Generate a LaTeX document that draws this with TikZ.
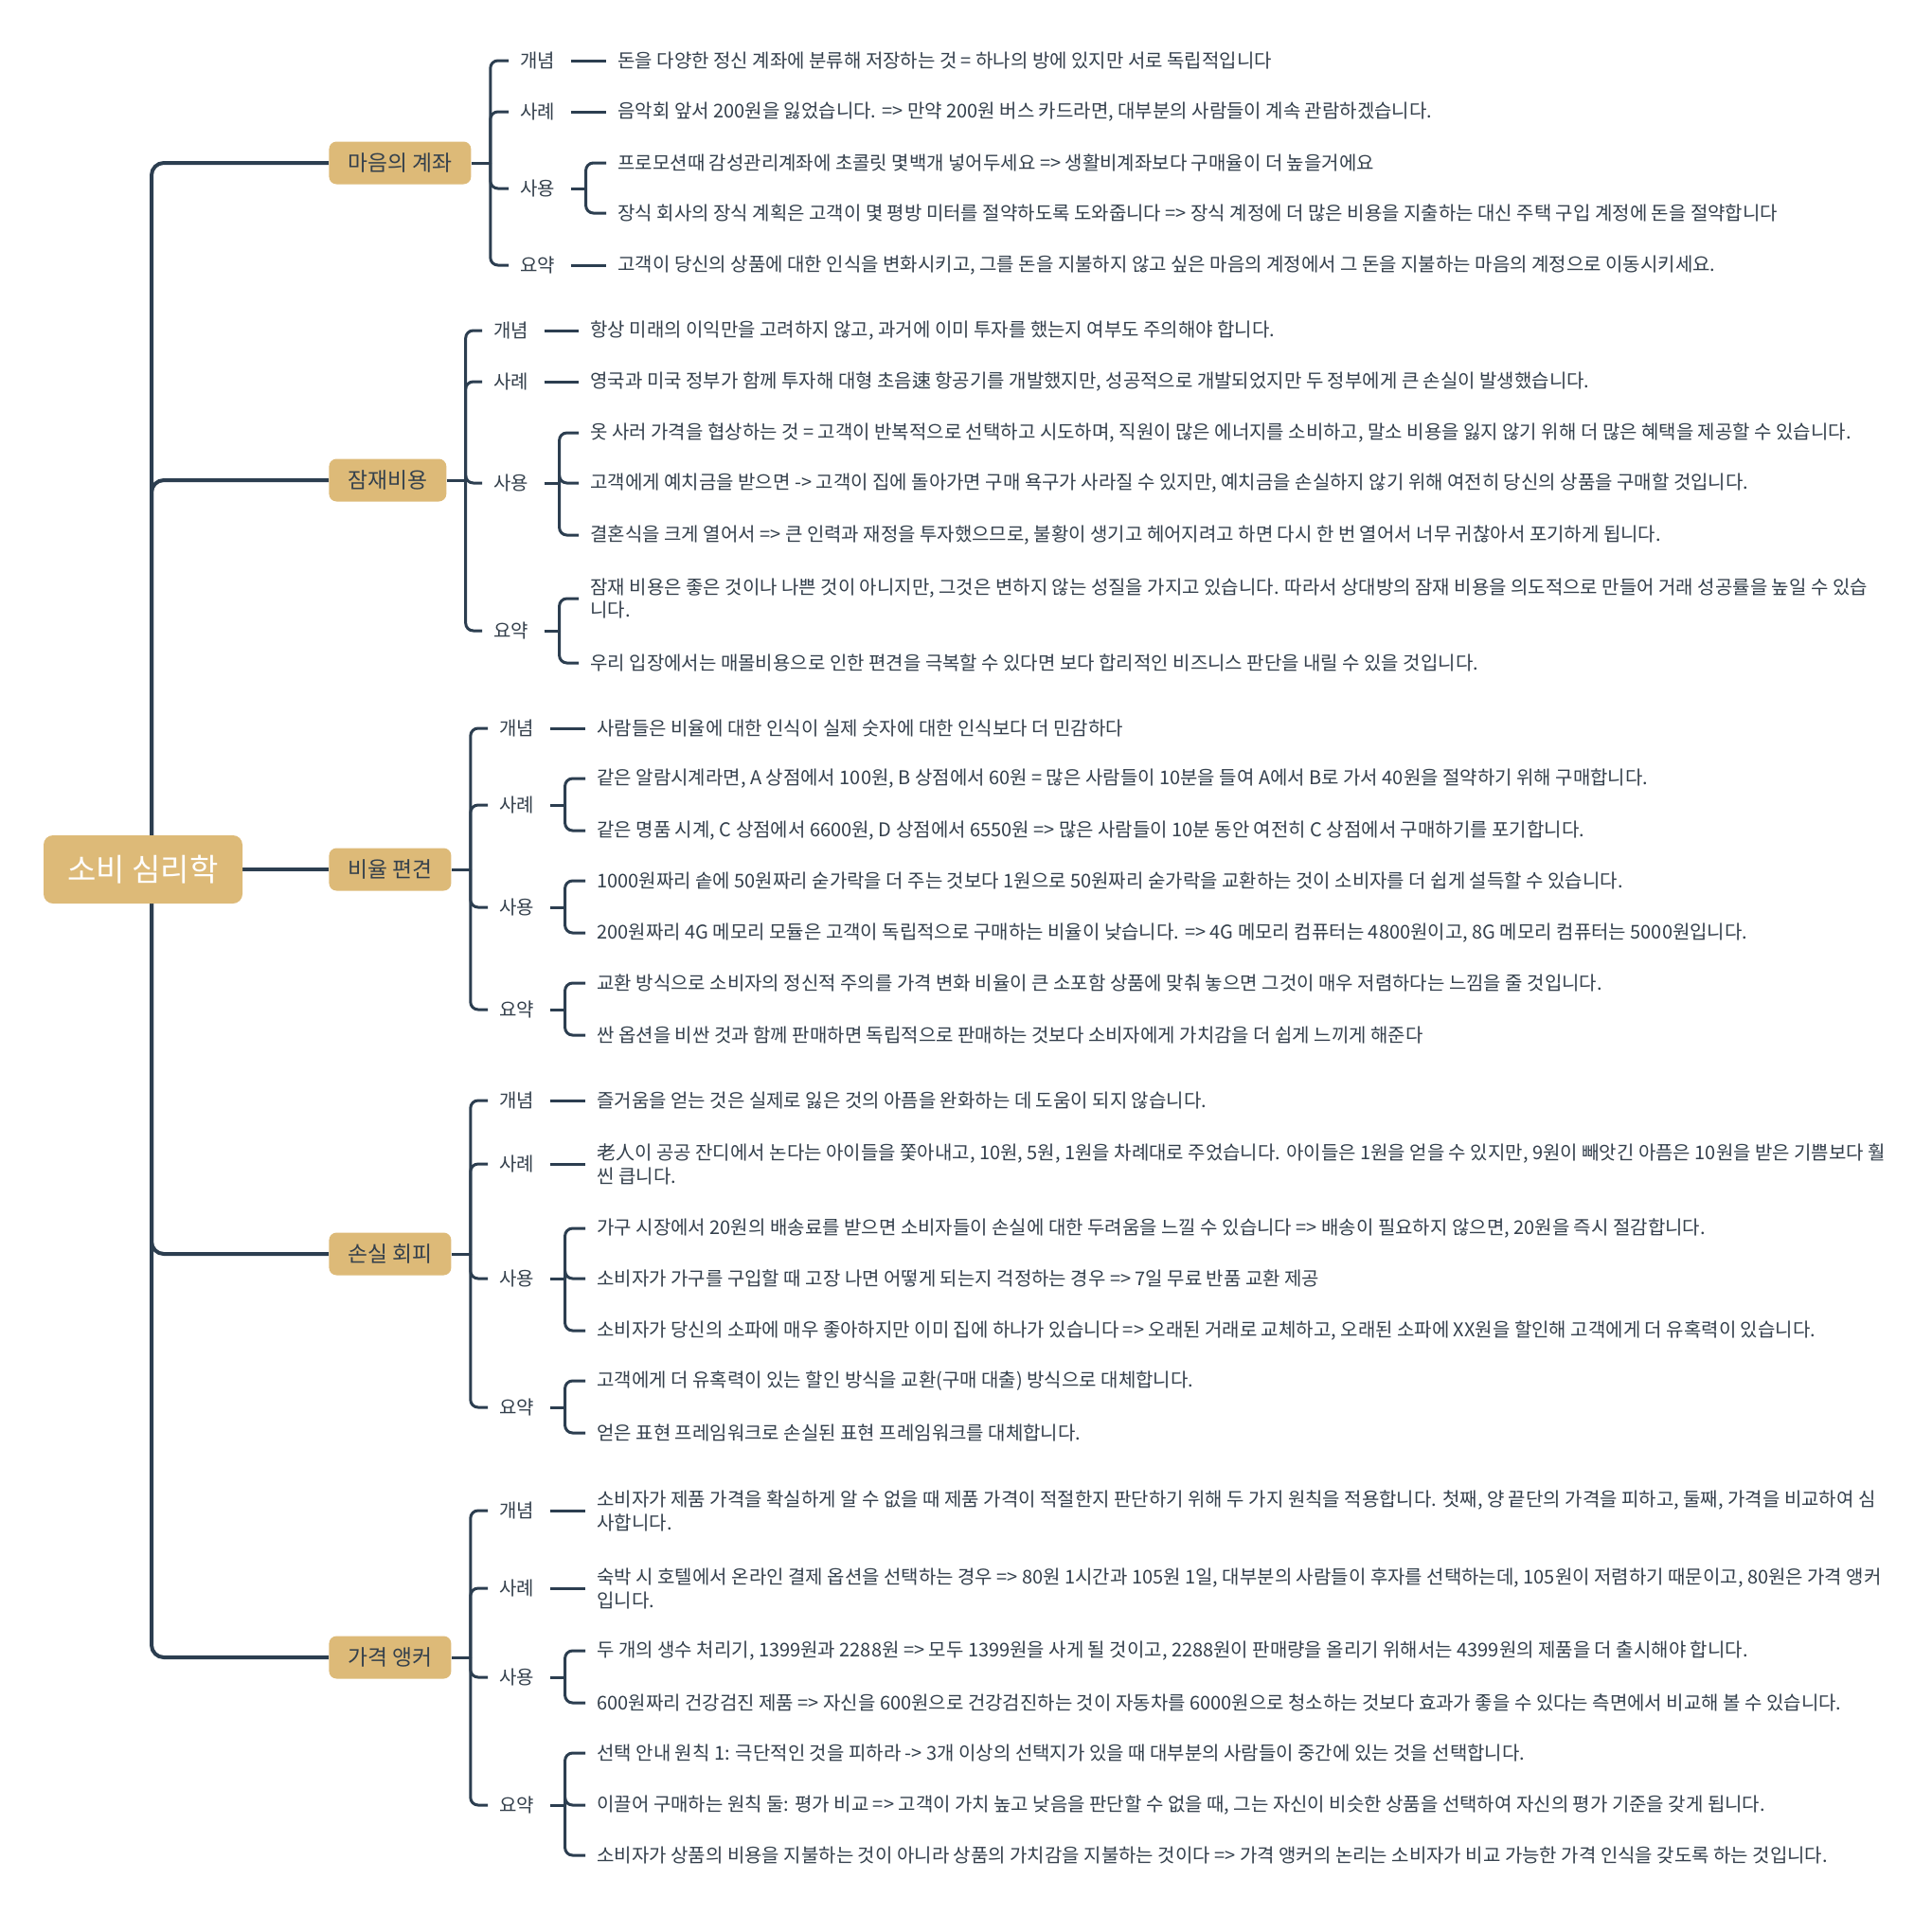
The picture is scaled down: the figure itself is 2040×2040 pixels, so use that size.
\documentclass[tikz,border=0pt]{standalone}
\usepackage{fontspec}
\setmainfont{Noto Sans CJK KR}
\usepackage{tikz}
\usetikzlibrary{positioning, backgrounds}
\definecolor{sand}{HTML}{DDBA78}
\definecolor{ink}{HTML}{2C3E50}
\definecolor{txt}{HTML}{34404C}

\begin{document}
\begin{tikzpicture}[
    x=0.5pt, y=-0.5pt,
    every node/.style={font=\fontsize{10}{12.5}\selectfont, text=txt},
    root/.style={rectangle, rounded corners=5pt, fill=sand, text=white, minimum width=105pt, minimum height=36pt, font=\fontsize{16.5}{19}\selectfont},
    branch/.style={rectangle, rounded corners=4pt, fill=sand, text=txt, anchor=west, inner xsep=10pt, minimum height=22.5pt, font=\fontsize{11.4}{13}\selectfont},
    tag/.style={anchor=west, inner xsep=6pt, inner ysep=2pt},
    leaf/.style={anchor=west, inner xsep=6pt, inner ysep=2pt, align=left},
    trunk/.style={draw=ink, line width=2pt, rounded corners=6.5pt},
    link/.style={draw=ink, line width=1.5pt, rounded corners=4pt},
    tie/.style={draw=ink, line width=1.5pt, shorten <=2pt}
]
% --- root and main branches ---
\node[root] (root) at (151,918) {소비 심리학};
\coordinate (hub) at (160,918);
\node[branch] (mind)  at (347,172)  {마음의 계좌};
\node[branch] (sunk)  at (347,507)  {잠재비용};
\node[branch] (ratio) at (347,918)  {비율 편견};
\node[branch] (loss)  at (347,1324) {손실 회피};
\node[branch] (price) at (347,1750) {가격 앵커};

% --- 마음의 계좌 ---
\node[tag]  (mind_con)   at (537,64)  {개념};
\node[leaf] (mind_con_t) at (640,64)  {돈을 다양한 정신 계좌에 분류해 저장하는 것 = 하나의 방에 있지만 서로 독립적입니다};
\node[tag]  (mind_ex)    at (537,118) {사례};
\node[leaf] (mind_ex_t)  at (640,118) {음악회 앞서 200원을 잃었습니다. => 만약 200원 버스 카드라면, 대부분의 사람들이 계속 관람하겠습니다.};
\node[tag]  (mind_use)   at (537,199) {사용};
\node[leaf] (mind_use_a) at (640,172) {프로모션때 감성관리계좌에 초콜릿 몇백개 넣어두세요 => 생활비계좌보다 구매율이 더 높을거에요};
\node[leaf] (mind_use_b) at (640,225) {장식 회사의 장식 계획은 고객이 몇 평방 미터를 절약하도록 도와줍니다 => 장식 계정에 더 많은 비용을 지출하는 대신 주택 구입 계정에 돈을 절약합니다};
\node[tag]  (mind_sum)   at (537,280) {요약};
\node[leaf] (mind_sum_t) at (640,280) {고객이 당신의 상품에 대한 인식을 변화시키고, 그를 돈을 지불하지 않고 싶은 마음의 계정에서 그 돈을 지불하는 마음의 계정으로 이동시키세요.};

% --- 잠재비용 ---
\node[tag]  (sunk_con)   at (509,349) {개념};
\node[leaf] (sunk_con_t) at (611,349) {항상 미래의 이익만을 고려하지 않고, 과거에 이미 투자를 했는지 여부도 주의해야 합니다.};
\node[tag]  (sunk_ex)    at (509,403) {사례};
\node[leaf] (sunk_ex_t)  at (611,403) {영국과 미국 정부가 함께 투자해 대형 초음速 항공기를 개발했지만, 성공적으로 개발되었지만 두 정부에게 큰 손실이 발생했습니다.};
\node[tag]  (sunk_use)   at (509,510) {사용};
\node[leaf] (sunk_use_a) at (611,457) {옷 사러 가격을 협상하는 것 = 고객이 반복적으로 선택하고 시도하며, 직원이 많은 에너지를 소비하고, 말소 비용을 잃지 않기 위해 더 많은 혜택을 제공할 수 있습니다.};
\node[leaf] (sunk_use_b) at (611,510) {고객에게 예치금을 받으면 -> 고객이 집에 돌아가면 구매 욕구가 사라질 수 있지만, 예치금을 손실하지 않기 위해 여전히 당신의 상품을 구매할 것입니다.};
\node[leaf] (sunk_use_c) at (611,565) {결혼식을 크게 열어서 => 큰 인력과 재정을 투자했으므로, 불황이 생기고 헤어지려고 하면 다시 한 번 열어서 너무 귀찮아서 포기하게 됩니다.};
\node[tag]  (sunk_sum)   at (509,666) {요약};
\node[leaf] (sunk_sum_a) at (611,632) {잠재 비용은 좋은 것이나 나쁜 것이 아니지만, 그것은 변하지 않는 성질을 가지고 있습니다. 따라서 상대방의 잠재 비용을 의도적으로 만들어 거래 성공률을 높일 수 있습\\니다.};
\node[leaf] (sunk_sum_b) at (611,700) {우리 입장에서는 매몰비용으로 인한 편견을 극복할 수 있다면 보다 합리적인 비즈니스 판단을 내릴 수 있을 것입니다.};

% --- 비율 편견 ---
\node[tag]  (ratio_con)   at (515,769)  {개념};
\node[leaf] (ratio_con_t) at (618,769)  {사람들은 비율에 대한 인식이 실제 숫자에 대한 인식보다 더 민감하다};
\node[tag]  (ratio_ex)    at (515,850)  {사례};
\node[leaf] (ratio_ex_a)  at (618,822)  {같은 알람시계라면, A 상점에서 100원, B 상점에서 60원 = 많은 사람들이 10분을 들여 A에서 B로 가서 40원을 절약하기 위해 구매합니다.};
\node[leaf] (ratio_ex_b)  at (618,877)  {같은 명품 시계, C 상점에서 6600원, D 상점에서 6550원 => 많은 사람들이 10분 동안 여전히 C 상점에서 구매하기를 포기합니다.};
\node[tag]  (ratio_use)   at (515,958)  {사용};
\node[leaf] (ratio_use_a) at (618,930)  {1000원짜리 솥에 50원짜리 숟가락을 더 주는 것보다 1원으로 50원짜리 숟가락을 교환하는 것이 소비자를 더 쉽게 설득할 수 있습니다.};
\node[leaf] (ratio_use_b) at (618,985)  {200원짜리 4G 메모리 모듈은 고객이 독립적으로 구매하는 비율이 낮습니다. => 4G 메모리 컴퓨터는 4800원이고, 8G 메모리 컴퓨터는 5000원입니다.};
\node[tag]  (ratio_sum)   at (515,1066) {요약};
\node[leaf] (ratio_sum_a) at (618,1038) {교환 방식으로 소비자의 정신적 주의를 가격 변화 비율이 큰 소포함 상품에 맞춰 놓으면 그것이 매우 저렴하다는 느낌을 줄 것입니다.};
\node[leaf] (ratio_sum_b) at (618,1093) {싼 옵션을 비싼 것과 함께 판매하면 독립적으로 판매하는 것보다 소비자에게 가치감을 더 쉽게 느끼게 해준다};

% --- 손실 회피 ---
\node[tag]  (loss_con)   at (515,1162) {개념};
\node[leaf] (loss_con_t) at (618,1162) {즐거움을 얻는 것은 실제로 잃은 것의 아픔을 완화하는 데 도움이 되지 않습니다.};
\node[tag]  (loss_ex)    at (515,1229) {사례};
\node[leaf] (loss_ex_t)  at (618,1229) {老人이 공공 잔디에서 논다는 아이들을 쫓아내고, 10원, 5원, 1원을 차례대로 주었습니다. 아이들은 1원을 얻을 수 있지만, 9원이 빼앗긴 아픔은 10원을 받은 기쁨보다 훨\\씬 큽니다.};
\node[tag]  (loss_use)   at (515,1350) {사용};
\node[leaf] (loss_use_a) at (618,1297) {가구 시장에서 20원의 배송료를 받으면 소비자들이 손실에 대한 두려움을 느낄 수 있습니다 => 배송이 필요하지 않으면, 20원을 즉시 절감합니다.};
\node[leaf] (loss_use_b) at (618,1350) {소비자가 가구를 구입할 때 고장 나면 어떻게 되는지 걱정하는 경우 => 7일 무료 반품 교환 제공};
\node[leaf] (loss_use_c) at (618,1405) {소비자가 당신의 소파에 매우 좋아하지만 이미 집에 하나가 있습니다 => 오래된 거래로 교체하고, 오래된 소파에 XX원을 할인해 고객에게 더 유혹력이 있습니다.};
\node[tag]  (loss_sum)   at (515,1486) {요약};
\node[leaf] (loss_sum_a) at (618,1458) {고객에게 더 유혹력이 있는 할인 방식을 교환(구매 대출) 방식으로 대체합니다.};
\node[leaf] (loss_sum_b) at (618,1513) {얻은 표현 프레임워크로 손실된 표현 프레임워크를 대체합니다.};

% --- 가격 앵커 ---
\node[tag]  (price_con)   at (515,1595) {개념};
\node[leaf] (price_con_t) at (618,1595) {소비자가 제품 가격을 확실하게 알 수 없을 때 제품 가격이 적절한지 판단하기 위해 두 가지 원칙을 적용합니다. 첫째, 양 끝단의 가격을 피하고, 둘째, 가격을 비교하여 심\\사합니다.};
\node[tag]  (price_ex)    at (515,1677) {사례};
\node[leaf] (price_ex_t)  at (618,1677) {숙박 시 호텔에서 온라인 결제 옵션을 선택하는 경우 => 80원 1시간과 105원 1일, 대부분의 사람들이 후자를 선택하는데, 105원이 저렴하기 때문이고, 80원은 가격 앵커\\입니다.};
\node[tag]  (price_use)   at (515,1771) {사용};
\node[leaf] (price_use_a) at (618,1743) {두 개의 생수 처리기, 1399원과 2288원 => 모두 1399원을 사게 될 것이고, 2288원이 판매량을 올리기 위해서는 4399원의 제품을 더 출시해야 합니다.};
\node[leaf] (price_use_b) at (618,1798) {600원짜리 건강검진 제품 => 자신을 600원으로 건강검진하는 것이 자동차를 6000원으로 청소하는 것보다 효과가 좋을 수 있다는 측면에서 비교해 볼 수 있습니다.};
\node[tag]  (price_sum)   at (515,1906) {요약};
\node[leaf] (price_sum_a) at (618,1851) {선택 안내 원칙 1: 극단적인 것을 피하라 -> 3개 이상의 선택지가 있을 때 대부분의 사람들이 중간에 있는 것을 선택합니다.};
\node[leaf] (price_sum_b) at (618,1906) {이끌어 구매하는 원칙 둘: 평가 비교 => 고객이 가치 높고 낮음을 판단할 수 없을 때, 그는 자신이 비슷한 상품을 선택하여 자신의 평가 기준을 갖게 됩니다.};
\node[leaf] (price_sum_c) at (618,1959) {소비자가 상품의 비용을 지불하는 것이 아니라 상품의 가치감을 지불하는 것이다 => 가격 앵커의 논리는 소비자가 비교 가능한 가격 인식을 갖도록 하는 것입니다.};

\begin{scope}[on background layer]
    \fill[white] (0,0) rectangle (2040,2040);
    % --- trunk ---
    \draw[trunk] (hub) |- (mind.west);
    \draw[trunk] (hub) |- (sunk.west);
    \draw[trunk] (root.east) -- (ratio.west);
    \draw[trunk] (hub) |- (loss.west);
    \draw[trunk] (hub) |- (price.west);

    % --- 마음의 계좌 links ---
    \draw[link] (mind.east) -- ++(20,0) coordinate (mind_k);
    \draw[link] (mind_k) |- (mind_con.west);
    \draw[link] (mind_k) |- (mind_ex.west);
    \draw[link] (mind_k) |- (mind_use.west);
    \draw[link] (mind_k) |- (mind_sum.west);
    \draw[tie] (mind_con) -- (mind_con_t);
    \draw[tie] (mind_ex) -- (mind_ex_t);
    \draw[tie] (mind_sum) -- (mind_sum_t);
    \draw[tie] (mind_use.east) -- ++(20,0) coordinate (mind_use_k);
    \draw[link] (mind_use_k) |- (mind_use_a.west);
    \draw[link] (mind_use_k) |- (mind_use_b.west);

    % --- 잠재비용 links ---
    \draw[link] (sunk.east) -- ++(20,0) coordinate (sunk_k);
    \draw[link] (sunk_k) |- (sunk_con.west);
    \draw[link] (sunk_k) |- (sunk_ex.west);
    \draw[link] (sunk_k) |- (sunk_use.west);
    \draw[link] (sunk_k) |- (sunk_sum.west);
    \draw[tie] (sunk_con) -- (sunk_con_t);
    \draw[tie] (sunk_ex) -- (sunk_ex_t);
    \draw[tie] (sunk_use.east) -- ++(20,0) coordinate (sunk_use_k);
    \draw[link] (sunk_use_k) |- (sunk_use_a.west);
    \draw[link] (sunk_use_k) |- (sunk_use_b.west);
    \draw[link] (sunk_use_k) |- (sunk_use_c.west);
    \draw[tie] (sunk_sum.east) -- ++(20,0) coordinate (sunk_sum_k);
    \draw[link] (sunk_sum_k) |- (sunk_sum_a.west);
    \draw[link] (sunk_sum_k) |- (sunk_sum_b.west);

    % --- 비율 편견 links ---
    \draw[link] (ratio.east) -- ++(20,0) coordinate (ratio_k);
    \draw[link] (ratio_k) |- (ratio_con.west);
    \draw[link] (ratio_k) |- (ratio_ex.west);
    \draw[link] (ratio_k) |- (ratio_use.west);
    \draw[link] (ratio_k) |- (ratio_sum.west);
    \draw[tie] (ratio_con) -- (ratio_con_t);
    \draw[tie] (ratio_ex.east) -- ++(20,0) coordinate (ratio_ex_k);
    \draw[link] (ratio_ex_k) |- (ratio_ex_a.west);
    \draw[link] (ratio_ex_k) |- (ratio_ex_b.west);
    \draw[tie] (ratio_use.east) -- ++(20,0) coordinate (ratio_use_k);
    \draw[link] (ratio_use_k) |- (ratio_use_a.west);
    \draw[link] (ratio_use_k) |- (ratio_use_b.west);
    \draw[tie] (ratio_sum.east) -- ++(20,0) coordinate (ratio_sum_k);
    \draw[link] (ratio_sum_k) |- (ratio_sum_a.west);
    \draw[link] (ratio_sum_k) |- (ratio_sum_b.west);

    % --- 손실 회피 links ---
    \draw[link] (loss.east) -- ++(20,0) coordinate (loss_k);
    \draw[link] (loss_k) |- (loss_con.west);
    \draw[link] (loss_k) |- (loss_ex.west);
    \draw[link] (loss_k) |- (loss_use.west);
    \draw[link] (loss_k) |- (loss_sum.west);
    \draw[tie] (loss_con) -- (loss_con_t);
    \draw[tie] (loss_ex) -- (loss_ex_t);
    \draw[tie] (loss_use.east) -- ++(20,0) coordinate (loss_use_k);
    \draw[link] (loss_use_k) |- (loss_use_a.west);
    \draw[link] (loss_use_k) |- (loss_use_b.west);
    \draw[link] (loss_use_k) |- (loss_use_c.west);
    \draw[tie] (loss_sum.east) -- ++(20,0) coordinate (loss_sum_k);
    \draw[link] (loss_sum_k) |- (loss_sum_a.west);
    \draw[link] (loss_sum_k) |- (loss_sum_b.west);

    % --- 가격 앵커 links ---
    \draw[link] (price.east) -- ++(20,0) coordinate (price_k);
    \draw[link] (price_k) |- (price_con.west);
    \draw[link] (price_k) |- (price_ex.west);
    \draw[link] (price_k) |- (price_use.west);
    \draw[link] (price_k) |- (price_sum.west);
    \draw[tie] (price_con) -- (price_con_t);
    \draw[tie] (price_ex) -- (price_ex_t);
    \draw[tie] (price_use.east) -- ++(20,0) coordinate (price_use_k);
    \draw[link] (price_use_k) |- (price_use_a.west);
    \draw[link] (price_use_k) |- (price_use_b.west);
    \draw[tie] (price_sum.east) -- ++(20,0) coordinate (price_sum_k);
    \draw[link] (price_sum_k) |- (price_sum_a.west);
    \draw[link] (price_sum_k) |- (price_sum_b.west);
    \draw[link] (price_sum_k) |- (price_sum_c.west);
\end{scope}
\end{tikzpicture}
\end{document}
